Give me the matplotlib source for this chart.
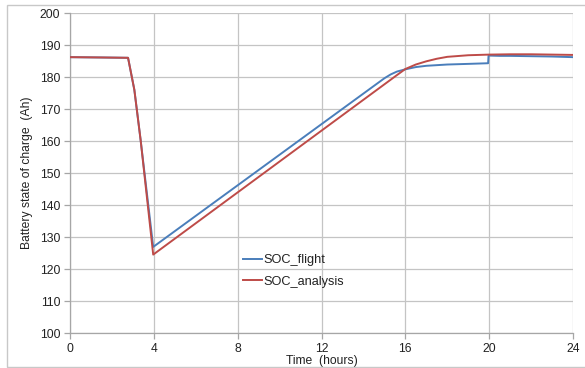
import matplotlib
matplotlib.use("Agg")
import matplotlib.pyplot as plt
from matplotlib.patches import Rectangle

# Data (hours, Ah)
flight_t = [0, 1.5, 2.77, 3.07, 3.37, 3.97, 15.0, 15.3, 15.6, 16.0, 16.5, 17, 18, 19, 19.95, 19.97, 20.5, 21, 22, 23, 24]
flight_v = [186.2, 186.1, 186.0, 176.0, 160.3, 126.9, 179.6, 180.8, 181.7, 182.4, 183.1, 183.5, 183.9, 184.1, 184.3, 186.7, 186.6, 186.6, 186.5, 186.4, 186.2]

analysis_t = [0, 1.5, 2.77, 3.07, 3.37, 3.97, 15.6, 16.0, 16.5, 17, 17.5, 18, 19, 20, 21, 22, 23, 24]
analysis_v = [186.2, 186.1, 186.0, 176.0, 160.3, 124.5, 180.6, 182.5, 183.9, 184.9, 185.7, 186.3, 186.8, 187.0, 187.1, 187.1, 187.0, 186.9]

x_ticks = [0, 4, 8, 12, 16, 20, 24]
y_ticks = [100, 110, 120, 130, 140, 150, 160, 170, 180, 190, 200]
labels = ["SOC_flight", "SOC_analysis"]

plt.rcParams['font.family'] = ['Liberation Sans', 'DejaVu Sans']

fig = plt.figure(figsize=(5.85, 3.68), dpi=100)
fig.patches.append(Rectangle((7/585, 1/368), 1.2, 362/368, transform=fig.transFigure,
                             fill=False, edgecolor='#c8c8c8', linewidth=1.0))
ax = fig.add_axes([70/585, 1-333/368, 503/585, 320/368])

ax.plot(flight_t, flight_v, color='#4a7ebb', lw=1.4, label=labels[0], zorder=3)
ax.plot(analysis_t, analysis_v, color='#be4b48', lw=1.4, label=labels[1], zorder=3)

ax.set_xlim(0, 24)
ax.set_ylim(100, 200)
ax.set_xticks(x_ticks)
ax.set_yticks(y_ticks)
ax.grid(True, color='#c4c4c4', linewidth=0.9)
ax.set_axisbelow(True)
for s in ['top', 'right']:
    ax.spines[s].set_visible(False)
for s in ['left', 'bottom']:
    ax.spines[s].set_color('#a6a6a6')
    ax.spines[s].set_linewidth(0.9)
ax.tick_params(axis='both', labelsize=8.7, colors='#a6a6a6', labelcolor='#222222', length=4, width=0.9)
ax.tick_params(axis='y', pad=3)
ax.tick_params(axis='x', pad=3)

ax.set_xlabel('Time  (hours)', fontsize=8.7, color='#222222', labelpad=0)
ax.set_ylabel('Battery state of charge  (Ah)', fontsize=8.7, color='#222222', labelpad=5)

leg = ax.legend(loc='upper left', bbox_to_anchor=(168/503, 1-(249-13)/320), frameon=False,
                fontsize=9.2, handlelength=1.5, handletextpad=0.1, labelspacing=0.75,
                borderaxespad=0)
for t in leg.get_texts():
    t.set_color('#222222')

fig.savefig('out.png', dpi=100)
